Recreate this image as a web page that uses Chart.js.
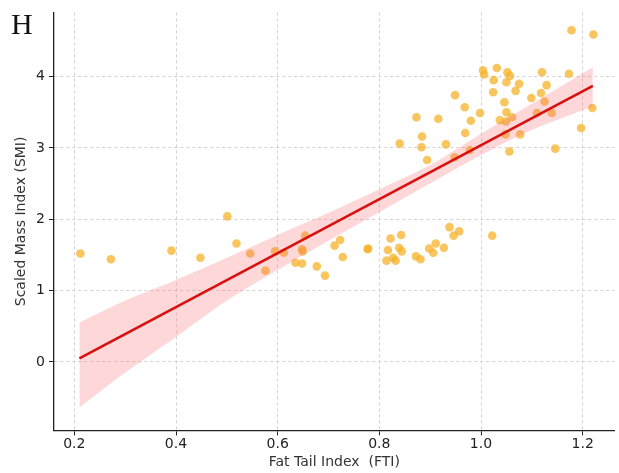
<!DOCTYPE html>
<html>
<head>
<meta charset="utf-8">
<script src="https://cdn.jsdelivr.net/npm/chart.js@4/dist/chart.umd.min.js"></script>
<style>
  html, body { margin: 0; padding: 0; background: #fff; }
  #wrap { width: 619px; height: 473px; }
</style>
</head>
<body>
<div id="wrap"><canvas id="regChart"></canvas></div>
<script>
// scatter: fat tail index vs scaled mass index
const fti = [0.212, 0.272, 0.391, 0.448, 0.501, 0.519, 0.546, 0.576, 0.595, 0.612,
  0.635, 0.648, 0.649, 0.648, 0.654, 0.677, 0.693, 0.712, 0.723, 0.728,
  0.777, 0.778, 0.814, 0.817, 0.822, 0.827, 0.832, 0.839, 0.843, 0.844,
  0.840, 0.872, 0.881, 0.873, 0.884, 0.883, 0.894, 0.898, 0.906, 0.911,
  0.916, 0.927, 0.931, 0.938, 0.946, 0.948, 0.949, 0.957, 0.968, 0.969,
  0.978, 0.980, 0.998, 1.004, 1.006, 1.022, 1.025, 1.024, 1.031, 1.037,
  1.046, 1.049, 1.050, 1.048, 1.050, 1.052, 1.056, 1.057, 1.061, 1.068,
  1.075, 1.077, 1.099, 1.110, 1.118, 1.120, 1.125, 1.129, 1.139, 1.146,
  1.173, 1.178, 1.197, 1.219, 1.221];
const smi = [1.52, 1.44, 1.56, 1.46, 2.04, 1.66, 1.52, 1.28, 1.55, 1.53,
  1.39, 1.58, 1.55, 1.38, 1.77, 1.34, 1.21, 1.63, 1.71, 1.47,
  1.58, 1.59, 1.42, 1.57, 1.73, 1.46, 1.42, 1.60, 1.78, 1.55,
  3.06, 1.48, 1.44, 3.43, 3.16, 3.01, 2.83, 1.59, 1.53, 1.66,
  3.41, 1.60, 3.05, 1.89, 1.77, 2.87, 3.74, 1.83, 3.57, 3.21,
  2.97, 3.38, 3.49, 4.09, 4.03, 1.77, 3.95, 3.78, 4.12, 3.39,
  3.64, 3.37, 3.50, 3.19, 3.92, 4.06, 2.95, 4.01, 3.43, 3.80,
  3.90, 3.19, 3.70, 3.49, 3.77, 4.06, 3.65, 3.88, 3.49, 2.99,
  4.04, 4.65, 3.28, 3.56, 4.59];

// fitted line and its confidence band
const fitX = [0.21, 1.22];
const fitY = [0.05, 3.87];
const bandX = [0.21, 0.3, 0.4, 0.5, 0.6, 0.7, 0.8, 0.9, 1.0, 1.1, 1.22];
const bandUpper = [0.55, 0.86, 1.15, 1.46, 1.78, 2.09, 2.42, 2.76, 3.20, 3.62, 4.13];
const bandLower = [-0.64, -0.15, 0.35, 0.86, 1.29, 1.70, 2.10, 2.50, 2.90, 3.25, 3.58];

const xTicks = [0.2, 0.4, 0.6, 0.8, 1.0, 1.2];
const yTicks = [0, 1, 2, 3, 4];

const toPts = (xs, ys) => xs.map((x, i) => ({ x: x, y: ys[i] }));

const panelLabel = {
    id: 'panelLabel',
    afterDraw(chart) {
        const c = chart.ctx;
        c.save();
        c.font = '30px "Liberation Serif"';
        c.fillStyle = '#111';
        c.textBaseline = 'alphabetic';
        c.fillText('H', 11, 34);
        c.restore();
    }
};

const gridStyle = {
    color: '#d2d2d2',
    lineWidth: 1,
    tickColor: '#222',
    tickLength: 5,
    tickBorderDash: [],
    drawTicks: true
};
const axisBorder = { display: true, color: '#222', width: 1.3, dash: [3, 3] };

new Chart(document.getElementById('regChart'), {
    type: 'scatter',
    data: {
        datasets: [
            {
                label: 'ci upper',
                data: toPts(bandX, bandUpper),
                showLine: true,
                borderWidth: 0,
                pointRadius: 0,
                backgroundColor: 'rgba(250, 110, 120, 0.28)',
                fill: '+1',
                tension: 0.3,
                order: 1
            },
            {
                label: 'ci lower',
                data: toPts(bandX, bandLower),
                showLine: true,
                borderWidth: 0,
                pointRadius: 0,
                fill: false,
                tension: 0.3,
                order: 1
            },
            {
                label: 'fit',
                data: toPts(fitX, fitY),
                showLine: true,
                borderColor: '#d8100f',
                borderWidth: 2.6,
                pointRadius: 0,
                fill: false,
                order: 0
            },
            {
                label: 'samples',
                data: toPts(fti, smi),
                pointRadius: 4.3,
                pointBorderWidth: 0,
                backgroundColor: 'rgba(247, 178, 40, 0.75)',
                order: 2
            }
        ]
    },
    options: {
        responsive: true,
        maintainAspectRatio: false,
        animation: false,
        layout: { padding: { left: 0, right: 0, top: 10, bottom: 0 } },
        plugins: {
            legend: { display: false },
            tooltip: { enabled: false }
        },
        scales: {
            x: {
                type: 'linear',
                min: 0.16,
                max: 1.263,
                afterBuildTicks: s => { s.ticks = xTicks.map(v => ({ value: v })); },
                ticks: {
                    color: '#222',
                    font: { family: 'DejaVu Sans', size: 14 },
                    padding: 1,
                    callback: v => v.toFixed(1)
                },
                grid: gridStyle,
                border: axisBorder,
                title: {
                    display: true,
                    text: 'Fat Tail Index  (FTI)',
                    color: '#333',
                    font: { family: 'DejaVu Sans', size: 14 },
                    padding: { top: 0, bottom: 2 }
                }
            },
            y: {
                type: 'linear',
                min: -0.96,
                max: 4.9,
                afterBuildTicks: s => { s.ticks = yTicks.map(v => ({ value: v })); },
                afterFit: s => { s.width = 54; },
                ticks: {
                    color: '#222',
                    font: { family: 'DejaVu Sans', size: 14 },
                    padding: 4
                },
                grid: gridStyle,
                border: axisBorder,
                title: {
                    display: true,
                    text: 'Scaled Mass Index (SMI)',
                    color: '#333',
                    font: { family: 'DejaVu Sans', size: 14 },
                    padding: { top: 13, bottom: 0 }
                }
            }
        }
    },
    plugins: [panelLabel]
});
</script>
</body>
</html>
